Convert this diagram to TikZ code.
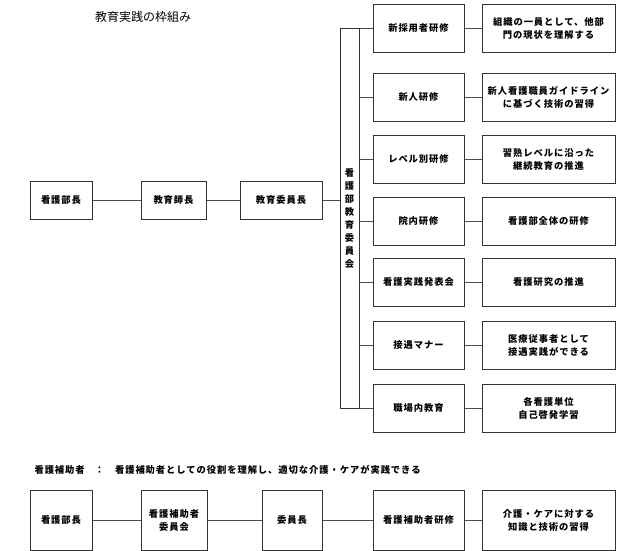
\documentclass[tikz,border=0pt]{standalone}
\usepackage{fontspec}
\setmainfont{Noto Sans CJK JP}
\newfontfamily\boxfont{Noto Sans CJK JP}[LetterSpace=10]
\begin{document}
\begin{tikzpicture}[x=1pt,y=-1pt]
    \tikzstyle{box}=[rectangle, draw=black!80, line width=1pt, inner sep=1pt,
                     align=center, font=\boxfont\bfseries\fontsize{9.3}{13}\selectfont]
    \tikzstyle{course}=[box, minimum width=91, minimum height=48]
    \tikzstyle{aim}=[box, minimum width=133, minimum height=48]
    \tikzstyle{every edge}=[draw=black!70, line width=1pt]
    \useasboundingbox (0,0) rectangle (637,550);

    \node[font=\fontsize{12}{14}\selectfont] (title) at (143,17) {教育実践の枠組み};

    % upper frame
    \node[box, minimum width=62, minimum height=38] (head) at (61,200) {看護部長};
    \node[box, minimum width=65, minimum height=38] (chief) at (173.5,200) {教育師長};
    \node[box, minimum width=82, minimum height=38] (chair) at (281,200) {教育委員長};
    \node[box, minimum width=19, minimum height=380, inner sep=0pt] (com) at (349.5,218)
        {看\\護\\部\\教\\育\\委\\員\\会};

    \node[course] (c1) at (418.5,28) {新採用者研修};
    \node[course] (c2) at (418.5,97) {新人研修};
    \node[course] (c3) at (418.5,159) {レベル別研修};
    \node[course] (c4) at (418.5,221) {院内研修};
    \node[course] (c5) at (418.5,282) {看護実践発表会};
    \node[course] (c6) at (418.5,345) {接遇マナー};
    \node[course] (c7) at (418.5,408) {職場内教育};

    \node[aim] (g1) at (548.5,28) {組織の一員として、他部\\門の現状を理解する};
    \node[aim] (g2) at (548.5,97) {新人看護職員ガイドライン\\に基づく技術の習得};
    \node[aim] (g3) at (548.5,159) {習熟レベルに沿った\\継続教育の推進};
    \node[aim] (g4) at (548.5,221) {看護部全体の研修};
    \node[aim] (g5) at (548.5,282) {看護研究の推進};
    \node[aim] (g6) at (548.5,345) {医療従事者として\\接遇実践ができる};
    \node[aim] (g7) at (548.5,408) {各看護単位\\自己啓発学習};

    \path (head) edge (chief) (chief) edge (chair) (chair) edge (chair -| com.west);
    \path (c1 -| com.east) edge (c1) (c2 -| com.east) edge (c2)
          (c3 -| com.east) edge (c3) (c4 -| com.east) edge (c4)
          (c5 -| com.east) edge (c5) (c6 -| com.east) edge (c6)
          (c7 -| com.east) edge (c7);
    \path (c1) edge (g1) (c2) edge (g2) (c3) edge (g3) (c4) edge (g4)
          (c5) edge (g5) (c6) edge (g6) (c7) edge (g7);

    % nursing assistants
    \node[anchor=west, font=\boxfont\bfseries\fontsize{9.3}{13}\selectfont] (note) at (31,470)
        {看護補助者\hspace{10pt}：\hspace{11pt}看護補助者としての役割を理解し、適切な介護・ケアが実践できる};

    \node[box, minimum width=62, minimum height=60] (b1) at (61,520) {看護部長};
    \node[box, minimum width=66, minimum height=60] (b2) at (174,520) {看護補助者\\委員会};
    \node[box, minimum width=60, minimum height=60] (b3) at (292,520) {委員長};
    \node[box, minimum width=91, minimum height=60] (b4) at (418.5,520) {看護補助者研修};
    \node[box, minimum width=133, minimum height=60] (b5) at (548.5,520) {介護・ケアに対する\\知識と技術の習得};

    \path (b1) edge (b2) (b2) edge (b3) (b3) edge (b4) (b4) edge (b5);
\end{tikzpicture}
\end{document}
